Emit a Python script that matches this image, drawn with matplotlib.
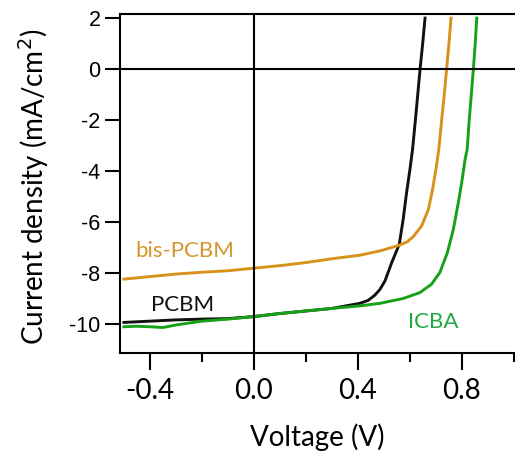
import numpy as np
import matplotlib
matplotlib.use('Agg')
from matplotlib import pyplot as plt
from matplotlib.ticker import MultipleLocator

# J-V curves for the three acceptors
v_pcbm = [-0.50, -0.40, -0.30, -0.20, -0.10, 0.00, 0.10, 0.20, 0.30, 0.408, 0.44, 0.465,
          0.485, 0.504, 0.53, 0.559, 0.574, 0.587, 0.60, 0.61, 0.621, 0.63, 0.639, 0.649, 0.658]
j_pcbm = [-9.95, -9.90, -9.85, -9.82, -9.80, -9.72, -9.60, -9.50, -9.40, -9.20, -9.08, -8.88,
          -8.65, -8.32, -7.60, -6.88, -5.90, -4.86, -3.94, -3.16, -2.00, -1.00, 0.00, 1.00, 2.00]

v_bis = [-0.50, -0.40, -0.30, -0.20, -0.10, 0.00, 0.10, 0.20, 0.30, 0.408, 0.485, 0.559,
         0.59, 0.613, 0.645, 0.671, 0.687, 0.70, 0.711, 0.722, 0.732, 0.741, 0.75, 0.758]
j_bis = [-8.25, -8.15, -8.05, -7.98, -7.92, -7.82, -7.72, -7.60, -7.45, -7.31, -7.14, -6.92,
         -6.78, -6.58, -6.16, -5.51, -4.73, -3.94, -3.16, -2.00, -1.00, 0.00, 1.00, 2.00]

v_icba = [-0.50, -0.45, -0.40, -0.35, -0.30, -0.20, -0.10, 0.00, 0.10, 0.20, 0.30, 0.408,
          0.485, 0.574, 0.638, 0.683, 0.715, 0.744, 0.767, 0.786, 0.799, 0.812, 0.82,
          0.828, 0.836, 0.844, 0.851, 0.857]
j_icba = [-10.12, -10.10, -10.12, -10.15, -10.05, -9.90, -9.82, -9.72, -9.60, -9.50, -9.40, -9.30,
          -9.20, -9.01, -8.78, -8.45, -7.99, -7.21, -6.29, -5.25, -4.46, -3.55, -3.16,
          -2.00, -1.00, 0.00, 1.00, 2.00]

labels = ['PCBM', 'bis-PCBM', 'ICBA']
colors = ['#111111', '#D6921A', '#16A116']
text_colors = ['#111111', '#D4962E', '#22A845']

fig = plt.figure(figsize=(5.15, 4.61), dpi=100)
ax = fig.add_axes([0.233, 0.2343, 0.767, 0.7353])

ax.plot(v_pcbm, j_pcbm, color=colors[0], lw=2.1, solid_joinstyle='round')
ax.plot(v_bis, j_bis, color=colors[1], lw=2.1, solid_joinstyle='round')
ax.plot(v_icba, j_icba, color=colors[2], lw=2.1, solid_joinstyle='round')

ax.axhline(0, color='black', lw=1.5)
ax.axvline(0, color='black', lw=1.5)

ax.text(-0.454, -7.16, labels[1], color=text_colors[1], fontsize=16, family='Lato',
        va='center', ha='left')
ax.text(-0.396, -9.27, labels[0], color=text_colors[0], fontsize=16, family='Lato',
        va='center', ha='left')
ax.text(0.592, -9.94, labels[2], color=text_colors[2], fontsize=16, family='Lato',
        va='center', ha='left')

ax.set_xlim(-0.515, 1.004)
ax.set_ylim(-11.15, 2.16)

ax.xaxis.set_minor_locator(MultipleLocator(0.2))
ax.set_xticks([-0.4, 0.0, 0.4, 0.8])
ax.set_xticklabels(['-0.4', '0.0', '0.4', '0.8'], family='Lato', fontsize=20)
ax.set_yticks([2, 0, -2, -4, -6, -8, -10])
ax.set_yticklabels(['2', '0', '-2', '-4', '-6', '-8', '-10'], family='Liberation Sans', fontsize=15.5)

ax.tick_params(axis='both', which='major', direction='out', width=1.5, length=12, color='black')
ax.tick_params(axis='x', which='major', pad=6)
ax.tick_params(axis='y', which='major', pad=3, length=11)
ax.tick_params(axis='x', which='minor', direction='out', width=1.5, length=6.5)

for side in ['left', 'bottom', 'top']:
    ax.spines[side].set_linewidth(1.5)
ax.spines['right'].set_visible(False)

ax.set_xlabel('Voltage (V)', family='Lato', fontsize=20, labelpad=14)
ax.set_ylabel('Current density (mA/cm$^2$)', family='Lato', fontsize=20)
ax.yaxis.set_label_coords(-0.175, 0.49)

fig.savefig('out.png', dpi=100)
